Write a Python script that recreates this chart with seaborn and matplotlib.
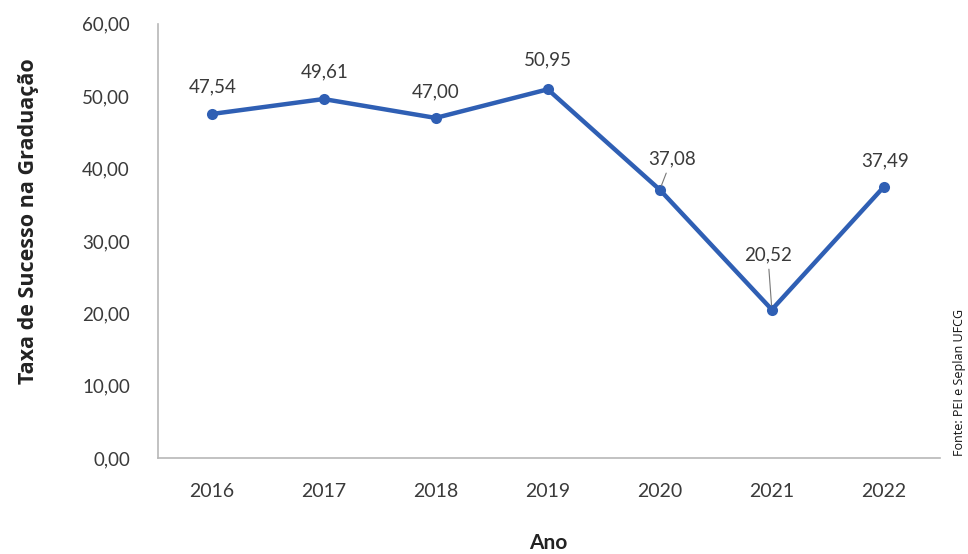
"""
plot.py — Taxa de Sucesso na Graduação (UFCG), 2016–2022.

Writes out.png (968x554).
"""
import matplotlib
matplotlib.use("Agg")
import matplotlib.pyplot as plt
import pandas as pd
import seaborn as sns

# data
years = [2016, 2017, 2018, 2019, 2020, 2021, 2022]
success_rate = [47.54, 49.61, 47.00, 50.95, 37.08, 20.52, 37.49]
y_ticks = [0, 10, 20, 30, 40, 50, 60]

# label offsets (pixels) relative to each point; 2020 and 2021 use leader lines
label_offsets = [(1, 27), (1, 27), (0, 26), (0, 29), (12, 31), (-4, 55), (1, 26)]
leader_years = [2020, 2021]

LINE_COLOR = "#2f5fb4"
TEXT_COLOR = "#3a3a3a"
AXIS_COLOR = "#b8b8b8"
NARROW = ["Liberation Sans Narrow", "Lato", "DejaVu Sans"]


def fmt_br(v: float) -> str:
    return f"{v:.2f}".replace(".", ",")


def main() -> None:
    sns.set_theme(style="white")
    plt.rcParams["font.family"] = ["Lato", "DejaVu Sans"]

    df = pd.DataFrame({"Ano": years, "Taxa": success_rate})

    fig = plt.figure(figsize=(9.68, 5.54), dpi=100)
    ax = fig.add_axes([0.163, 0.173, 0.808, 0.784])

    sns.lineplot(
        data=df, x="Ano", y="Taxa", ax=ax,
        color=LINE_COLOR, linewidth=3.2,
        marker="o", markersize=8, markeredgewidth=0,
    )

    for yr, val, (dx, dy) in zip(years, success_rate, label_offsets):
        arrow = None
        if yr in leader_years:
            arrow = dict(arrowstyle="-", color="#777777", lw=0.8,
                         shrinkA=2, shrinkB=3)
        ax.annotate(
            fmt_br(val), xy=(yr, val), xytext=(dx, dy),
            textcoords="offset pixels", ha="center", va="center",
            fontsize=13.5, color=TEXT_COLOR, arrowprops=arrow,
        )

    ax.set_xlim(2015.52, 2022.5)
    ax.set_ylim(0, 60)
    ax.set_xticks(years)
    ax.set_xticklabels([str(y) for y in years], family=NARROW)
    ax.set_yticks(y_ticks)
    ax.set_yticklabels([fmt_br(t) for t in y_ticks])

    for side in ("top", "right"):
        ax.spines[side].set_visible(False)
    for side in ("left", "bottom"):
        ax.spines[side].set_color(AXIS_COLOR)
        ax.spines[side].set_linewidth(1.2)

    ax.tick_params(axis="y", direction="out", length=6, width=1,
                   color=AXIS_COLOR, labelsize=13.5, labelcolor=TEXT_COLOR, pad=14)
    ax.tick_params(axis="x", direction="inout", length=10, width=1,
                   color=AXIS_COLOR, labelsize=14, labelcolor=TEXT_COLOR, pad=13)

    ax.set_xlabel("")
    ax.set_ylabel("")
    fig.text(0.029, 0.60, "Taxa de Sucesso na Graduação", rotation=90,
             ha="center", va="center", fontsize=15.5, fontweight="bold",
             color="#222222", family=["Open Sans", "DejaVu Sans"])
    fig.text(0.566, 0.02, "Ano", ha="center", va="center",
             fontsize=15, fontweight="bold", color="#222222", family=NARROW)
    fig.text(0.991, 0.31, "Fonte: PEI e Seplan UFCG", rotation=90,
             ha="center", va="center", fontsize=9, color="#111111",
             family=["Open Sans", "DejaVu Sans"])

    fig.savefig("out.png", dpi=100)
    plt.close(fig)


if __name__ == "__main__":
    main()
